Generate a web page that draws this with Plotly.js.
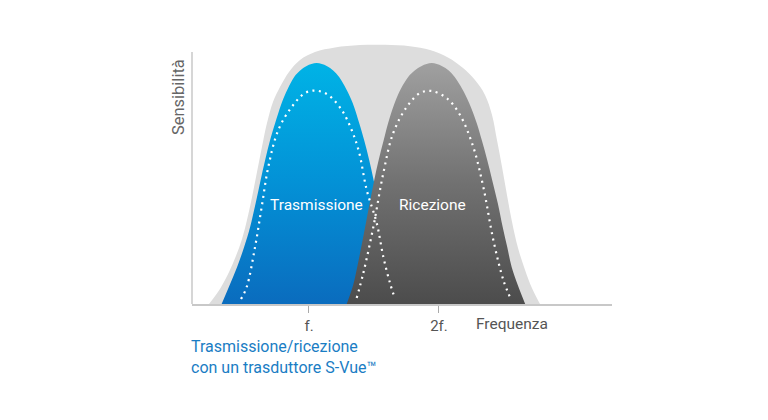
<!DOCTYPE html>
<html>
<head>
<meta charset="utf-8">
<script src="https://cdn.plot.ly/plotly-3.0.1.min.js"></script>
<style>
  html, body { margin:0; padding:0; background:#fff; }
  #plot { width:768px; height:420px; }
</style>
</head>
<body>
<div id="plot"></div>
<script>
// Frequency in units of f., sensitivity with the transducer peaks at 100

// light grey envelope (S-Vue bandwidth)
const envX = [0.231, 0.315, 0.385, 0.438, 0.485, 0.523, 0.562, 0.6, 0.638, 0.677, 0.723, 0.777, 0.846, 0.931, 1.046, 1.2, 1.392, 1.585,
              1.777, 1.931, 2.069, 2.185, 2.277, 2.354, 2.408, 2.446, 2.485, 2.523, 2.562, 2.608, 2.662, 2.715, 2.777];
const envY = [0, 6.25, 13.3, 20, 27.1, 35, 44.6, 55, 65.4, 75.4, 84.2, 90.4, 96.7, 101.7, 105, 106.9, 107.9, 108,
              107.4, 105.8, 102.7, 98.3, 93.3, 87.1, 78.75, 68.3, 57.1, 45.4, 34.2, 23.3, 14.2, 6.7, 0];

// Trasmissione band
const txX = [0.328, 0.39, 0.447, 0.501, 0.547, 0.59, 0.628, 0.663, 0.701, 0.74, 0.79, 0.836, 0.886, 0.932, 0.982, 1.059,
             1.136, 1.186, 1.232, 1.286, 1.336, 1.386, 1.424, 1.463, 1.497, 1.536, 1.574, 1.617, 1.667, 1.721, 1.79];
const txY = [0, 7.9, 15.4, 23.75, 32.1, 42.1, 51.7, 60, 68.3, 75.4, 83.75, 89.6, 94.6, 97.3, 99.2, 100.4,
             99.2, 97.3, 94.6, 89.6, 83.75, 75.4, 68.3, 60, 51.7, 42.1, 32.1, 23.75, 15.4, 7.9, 0];

// Ricezione band
const rxX = [1.29, 1.34, 1.371, 1.402, 1.432, 1.467, 1.502, 1.536, 1.575, 1.609, 1.659, 1.706, 1.763, 1.813, 1.867, 1.944,
             2.021, 2.075, 2.121, 2.179, 2.232, 2.29, 2.329, 2.371, 2.409, 2.452, 2.49, 2.525, 2.559, 2.606, 2.663];
const rxY = [0, 7.9, 15.4, 23.75, 32.1, 42.1, 51.7, 60, 68.3, 75.4, 83.75, 89.6, 94.6, 97.3, 99.2, 100.4,
             99.2, 97.3, 94.6, 89.6, 83.75, 75.4, 68.3, 60, 51.7, 42.1, 32.1, 23.75, 15.4, 7.9, 0];

// conventional transducer (dotted)
const txDotX = [0.477, 0.521, 0.585, 0.636, 0.687, 0.764, 0.867, 0.969, 1.054, 1.148, 1.252, 1.328, 1.385, 1.444, 1.521, 1.572, 1.623, 1.662];
const txDotY = [2.1, 7.1, 23.75, 40.4, 57.1, 72.5, 82.1, 87.9, 88.9, 87.1, 80.8, 72.5, 63.3, 47.5, 33.75, 19.6, 8.75, 2.1];
const rxDotX = [1.367, 1.418, 1.495, 1.572, 1.648, 1.752, 1.854, 1.944, 2.059, 2.162, 2.264, 2.341, 2.418, 2.495, 2.552];
const rxDotY = [2.5, 12.9, 32.1, 54.6, 71.25, 82.1, 87.9, 88.75, 85.8, 78.75, 65.4, 48.75, 26.7, 10, 2.1];

const tickVals = [1, 2];
const tickText = ['f.', '2f.'];
const bandLabels = ['Trasmissione', 'Ricezione'];
const bandPeaks = [1.059, 1.95];

const FONT = 'Roboto, "Open Sans", sans-serif';
const SMOOTH = 1;

const traces = [
  { x:envX, y:envY, type:'scatter', mode:'lines', fill:'toself', fillcolor:'#dddddd',
    line:{width:0, shape:'spline', smoothing:SMOOTH}, hoverinfo:'skip' },
  { x:txX, y:txY, type:'scatter', mode:'lines', fill:'toself',
    fillgradient:{type:'vertical', colorscale:[[0,'#0a6cbe'],[0.5,'#0391d6'],[1,'#00b3e6']]},
    line:{width:0, shape:'spline', smoothing:SMOOTH}, hoverinfo:'skip' },
  { x:rxX, y:rxY, type:'scatter', mode:'lines', fill:'toself',
    fillgradient:{type:'vertical', colorscale:[[0,'#4c4c4c'],[0.5,'#717171'],[1,'#a0a0a0']]},
    line:{width:0, shape:'spline', smoothing:SMOOTH}, hoverinfo:'skip' },
  { x:txDotX, y:txDotY, type:'scatter', mode:'lines',
    line:{color:'#ffffff', width:2.2, dash:'2px,4.5px', shape:'spline', smoothing:SMOOTH}, hoverinfo:'skip' },
  { x:rxDotX, y:rxDotY, type:'scatter', mode:'lines',
    line:{color:'#ffffff', width:2.2, dash:'2px,4.5px', shape:'spline', smoothing:SMOOTH}, hoverinfo:'skip' }
];

const annos = bandLabels.map((t, i) => ({
  x:bandPeaks[i], y:41.25, xref:'x', yref:'y', text:t, showarrow:false,
  font:{family:FONT, size:15.5, color:'#ffffff'}
}));

annos.push(
  { x:2.27, y:0, xref:'x', yref:'paper', xanchor:'left', yanchor:'top', yshift:-9,
    text:'Frequenza', showarrow:false, font:{family:FONT, size:15.5, color:'#555555'} },
  { x:0, y:86, xref:'paper', yref:'y', xanchor:'right', xshift:-2, textangle:-90,
    text:'Sensibilità', showarrow:false, font:{family:FONT, size:16.5, color:'#666666'} },
  { x:0, y:0, xref:'paper', yref:'paper', xanchor:'left', yanchor:'top', xshift:-3, yshift:-31, align:'left',
    text:'Trasmissione/ricezione<br>con un trasduttore S-Vue™', showarrow:false,
    font:{family:FONT, size:16, color:'#1a7dc4'} }
);

Plotly.newPlot('plot', traces, {
  width:768, height:420,
  margin:{l:192, r:156, t:40, b:116},
  paper_bgcolor:'#ffffff', plot_bgcolor:'#ffffff',
  showlegend:false,
  xaxis:{range:[0.1, 3.331], showgrid:false, zeroline:false, showline:true, linecolor:'#c8c8c8', linewidth:1.5,
    tickvals:tickVals, ticktext:tickText, ticks:'outside', ticklen:7, tickcolor:'#aaaaaa',
    tickfont:{family:FONT, size:15, color:'#555555'}, fixedrange:true},
  yaxis:{range:[0, 110], showgrid:false, zeroline:false, showline:false, showticklabels:false, fixedrange:true},
  shapes:[{type:'line', xref:'paper', yref:'y', x0:0, x1:0, y0:0, y1:105, line:{color:'#c8c8c8', width:1.5}}],
  annotations:annos
}, {displayModeBar:false, staticPlot:true});
</script>
</body>
</html>
